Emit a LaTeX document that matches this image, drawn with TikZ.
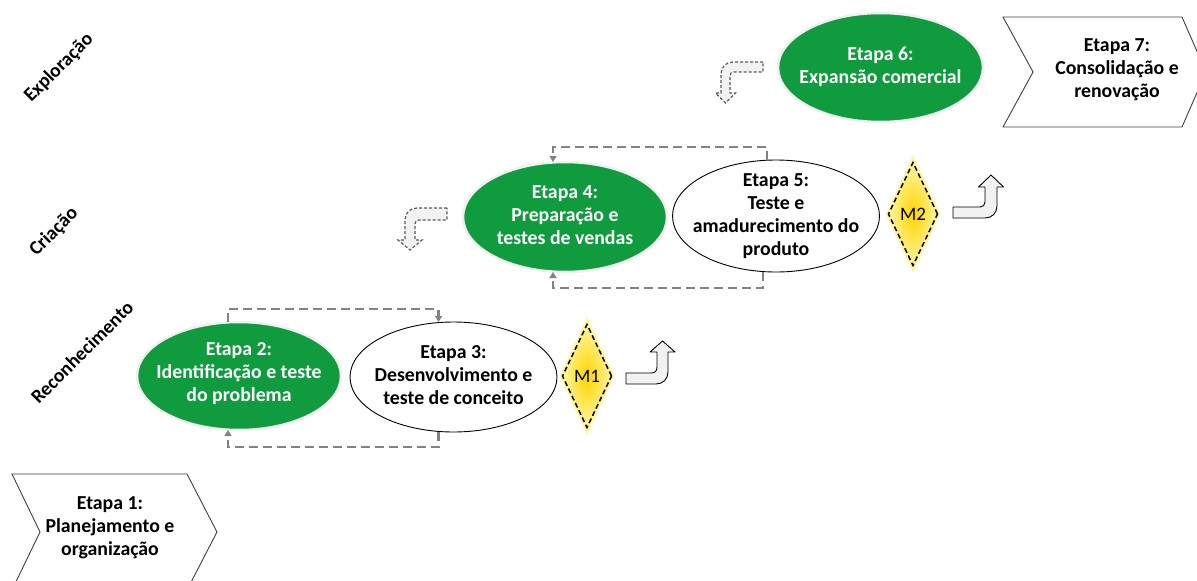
\documentclass[tikz,border=0pt]{standalone}
\usepackage{fontspec}
\setmainfont{Carlito}
\usetikzlibrary{shapes.geometric,arrows.meta}
\definecolor{stagegreen}{RGB}{16,156,62}
\definecolor{loopgray}{RGB}{130,130,130}
\definecolor{arrowfill}{RGB}{242,242,242}
\definecolor{goldcore}{RGB}{255,212,0}
\definecolor{goldedge}{RGB}{255,246,160}
\begin{document}
\begin{tikzpicture}[x=1pt,y=-1pt,
  every node/.style={inner sep=0pt, outer sep=0pt},
  txt/.style={font=\bfseries\fontsize{19.8}{23}\selectfont, align=center},
  wtxt/.style={txt, text=white},
  greenstage/.style={ellipse, fill=stagegreen, draw=gray!12, line width=2.5pt},
  whitestage/.style={ellipse, fill=white, draw=black, line width=0.9pt},
  milestone/.style={diamond, minimum width=49pt, minimum height=103pt,
    inner color=goldcore, outer color=goldedge, draw=black,
    dash pattern=on 5pt off 3pt, line width=1.5pt,
    font=\fontsize{19}{20}\selectfont},
  chevron/.style={fill=white, draw=black!75, line width=0.9pt, line join=miter},
  phase/.style={font=\bfseries\fontsize{19.5}{22}\selectfont, rotate=45},
  loopline/.style={draw=loopgray, line width=2.2pt, dash pattern=on 9pt off 5pt},
  looptip/.style={-{Triangle[length=6pt,width=7pt]}},
  bentup/.style={fill=arrowfill, draw=black, line width=0.9pt, line join=round},
  bentdown/.style={fill=arrowfill, draw=black!65, line width=1.2pt, dash pattern=on 3pt off 2pt},
]
\useasboundingbox (0,0) rectangle (1197,581);
\clip (0,0) rectangle (1197,581);

% phase labels along the left edge
\node[phase] (ph1) at (82,352) {Reconhecimento};
\node[phase] (ph2) at (54,232) {Criação};
\node[phase] (ph3) at (59,68) {Exploração};

% stage 1 and stage 7 chevrons
\draw[chevron] (12,474) -- (187,474) -- (217,532) -- (187,590) -- (12,590) -- (40,532) -- cycle;
\node[txt] (t1) at (110,528) {Etapa 1:\\Planejamento e\\organização};
\draw[chevron] (1003,17) -- (1182,17) -- (1206,72) -- (1182,127) -- (1003,127) -- (1033,72) -- cycle;
\node[txt] (t7) at (1117,70) {Etapa 7:\\Consolidação e\\renovação};

% stage ellipses
\node[greenstage, minimum width=204pt, minimum height=108pt] (e2) at (239,376) {};
\node[whitestage, minimum width=207pt, minimum height=110pt] (e3) at (453.5,377) {};
\node[greenstage, minimum width=204pt, minimum height=110pt] (e4) at (565,217) {};
\node[whitestage, minimum width=207pt, minimum height=112pt] (e5) at (776,216) {};
\node[greenstage, minimum width=205pt, minimum height=109pt] (e6) at (880.5,67.5) {};

\node[wtxt] (t2) at ([yshift=2pt]e2) {Etapa 2:\\Identificação e teste\\do problema};
\node[txt] (t3) at ([yshift=2pt]e3) {Etapa 3:\\Desenvolvimento e\\teste de conceito};
\node[wtxt] (t4) at ([yshift=2pt]e4) {Etapa 4:\\Preparação e\\testes de vendas};
\node[txt] (t5) at (e5) {Etapa 5:\\Teste e\\amadurecimento do\\produto};
\node[wtxt] (t6) at ([yshift=1pt]e6) {Etapa 6:\\Expansão comercial};

% iteration loops between paired stages
\draw[loopline,looptip] ([xshift=-11pt]e2.north) -- ++(0,-13) -| ([xshift=-15pt]e3.north);
\draw[loopline,looptip] ([xshift=-15pt]e3.south) -- ++(0,15) -| ([xshift=-11pt]e2.south);
\draw[loopline,looptip] ([xshift=-9pt]e5.north) -- ++(0,-13) -| ([xshift=-12pt]e4.north);
\draw[loopline,looptip] ([xshift=-13pt]e5.south) -- ++(0,16) -| ([xshift=-12pt]e4.south);

% milestones
\draw[draw=goldedge, line width=4pt, line join=miter] (587,322) -- (612,376) -- (587,430) -- (562,376) -- cycle;
\node[milestone] (m1) at (587,376) {M1};
\draw[draw=goldedge, line width=4pt, line join=miter] (913,160) -- (938,214) -- (913,268) -- (888,214) -- cycle;
\node[milestone] (m2) at (913,214) {M2};

% step-up arrows after the milestones
\draw[bentup] (626,373) -- (651,373) .. controls (655,373) and (657,371) .. (657,367) -- (657,352) -- (650,352) -- (662.5,341) -- (675,352) -- (668,352) -- (668,372) .. controls (668,379) and (663,384) .. (656,384) -- (626,384) -- cycle;
\draw[bentup] (953,207) -- (980,207) .. controls (983,207) and (985,205) .. (985,202) -- (985,187) -- (978.5,187) -- (991,175) -- (1003.5,187) -- (997,187) -- (997,206) .. controls (997,213) and (992,218) .. (985,218) -- (953,218) -- cycle;

% step-back arrows (dashed)
\draw[bentdown] (447,208) -- (417,208) .. controls (410,208) and (405,213) .. (405,220) -- (405,240) -- (398,240) -- (410,250) -- (422,240) -- (415,240) -- (415,224) .. controls (415,221.5) and (416.5,220) .. (419,220) -- (447,220) -- cycle;
\draw[bentdown] (763,62) -- (733,62) .. controls (726,62) and (721,67) .. (721,74) -- (721,93) -- (715.5,93) -- (725.5,103) -- (735.5,93) -- (730,93) -- (730,76) .. controls (730,73.5) and (731.5,72) .. (734,72) -- (763,72) -- cycle;
\end{tikzpicture}
\end{document}
